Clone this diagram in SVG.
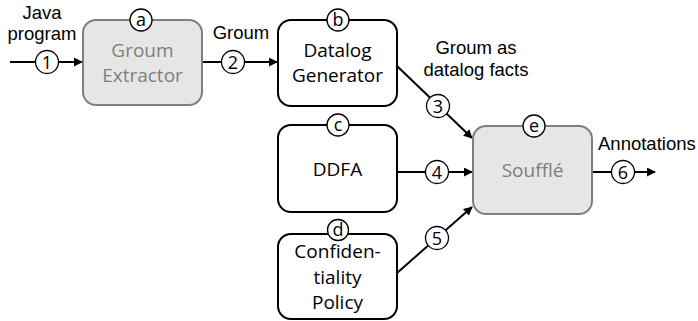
<svg xmlns="http://www.w3.org/2000/svg" width="698" height="321" viewBox="0 0 698 321">
  <style>
    .box { fill: #ffffff; stroke: #000000; stroke-width: 2; }
    .gbox { fill: #e6e6e6; stroke: #7f7f7f; stroke-width: 2; }
    .btxt { font-family: "Open Sans", "Noto Sans", sans-serif; font-size: 19px; text-anchor: middle; fill: #000000; }
    .gtxt { font-family: "Open Sans", "Noto Sans", sans-serif; font-size: 19px; text-anchor: middle; fill: #7f7f7f; }
    .lbl { font-family: "Liberation Sans", Arial, sans-serif; font-size: 18.5px; fill: #000000; }
    .tag { fill: #ffffff; stroke: #000000; stroke-width: 1.3; }
    .tagtxt { font-family: "Open Sans", "Noto Sans", sans-serif; font-size: 18px; text-anchor: middle; fill: #000000; }
    .wire { fill: none; stroke: #000000; stroke-width: 2; marker-end: url(#arrow); }
  </style>
  <defs>
    <marker id="arrow" viewBox="0 0 10 10" refX="9" refY="5" markerWidth="4.5" markerHeight="4.5" orient="auto" markerUnits="strokeWidth">
      <path d="M0,0 L10,5 L0,10 z" fill="#000000"/>
    </marker>
  </defs>

  <!-- connectors with numbered tags -->
  <g id="connectors">
    <path class="wire" d="M10,62 L82,62"/>
    <path class="wire" d="M202,62 L277,62"/>
    <path class="wire" d="M397,66 L472,138"/>
    <path class="wire" d="M397,172 L472,172"/>
    <path class="wire" d="M397,273 L472,207"/>
    <path class="wire" d="M592,172 L655,172"/>

    <circle class="tag" cx="47" cy="62" r="11.5"/>
    <text class="tagtxt" x="47" y="68.5">1</text>
    <circle class="tag" cx="233" cy="62" r="11.5"/>
    <text class="tagtxt" x="233" y="68.5">2</text>
    <circle class="tag" cx="438" cy="106" r="11.5"/>
    <text class="tagtxt" x="438" y="112.5">3</text>
    <circle class="tag" cx="437" cy="172" r="11.5"/>
    <text class="tagtxt" x="437" y="178.5">4</text>
    <circle class="tag" cx="437" cy="238" r="11.5"/>
    <text class="tagtxt" x="437" y="244.5">5</text>
    <circle class="tag" cx="623" cy="172" r="11.5"/>
    <text class="tagtxt" x="623" y="178.5">6</text>

    <text class="lbl" x="42" y="19" text-anchor="middle">Java</text>
    <text class="lbl" x="42" y="40" text-anchor="middle">program</text>
    <text class="lbl" x="241" y="39" text-anchor="middle">Groum</text>
    <text class="lbl" x="476" y="54" text-anchor="middle">Groum as</text>
    <text class="lbl" x="476" y="76" text-anchor="middle">datalog facts</text>
    <text class="lbl" x="598" y="150">Annotations</text>
  </g>

  <g id="node-a">
    <rect class="gbox" x="83" y="20" width="119" height="85" rx="13"/>
    <text class="gtxt" x="142.5" y="57">Groum</text>
    <text class="gtxt" x="142.5" y="82">Extractor</text>
    <circle class="tag" cx="141" cy="20" r="11"/>
    <text class="tagtxt" x="141" y="26">a</text>
  </g>

  <g id="node-b">
    <rect class="box" x="278" y="20" width="119" height="86" rx="13"/>
    <text class="btxt" x="337.5" y="57">Datalog</text>
    <text class="btxt" x="337.5" y="82">Generator</text>
    <circle class="tag" cx="338" cy="20" r="11"/>
    <text class="tagtxt" x="338" y="26">b</text>
  </g>

  <g id="node-c">
    <rect class="box" x="278" y="125" width="119" height="87" rx="13"/>
    <text class="btxt" x="337.5" y="176">DDFA</text>
    <circle class="tag" cx="338" cy="125" r="11"/>
    <text class="tagtxt" x="338" y="131">c</text>
  </g>

  <g id="node-d">
    <rect class="box" x="278" y="234" width="119" height="85" rx="13"/>
    <text class="btxt" x="337.5" y="258">Confiden-</text>
    <text class="btxt" x="337.5" y="284">tiality</text>
    <text class="btxt" x="337.5" y="309">Policy</text>
    <circle class="tag" cx="338" cy="230" r="10.5"/>
    <text class="tagtxt" x="338" y="236">d</text>
  </g>

  <g id="node-e">
    <rect class="gbox" x="473" y="126" width="119" height="88" rx="13"/>
    <text class="gtxt" x="532.5" y="177">Soufflé</text>
    <circle class="tag" cx="534" cy="126" r="11"/>
    <text class="tagtxt" x="534" y="132">e</text>
  </g>
</svg>
